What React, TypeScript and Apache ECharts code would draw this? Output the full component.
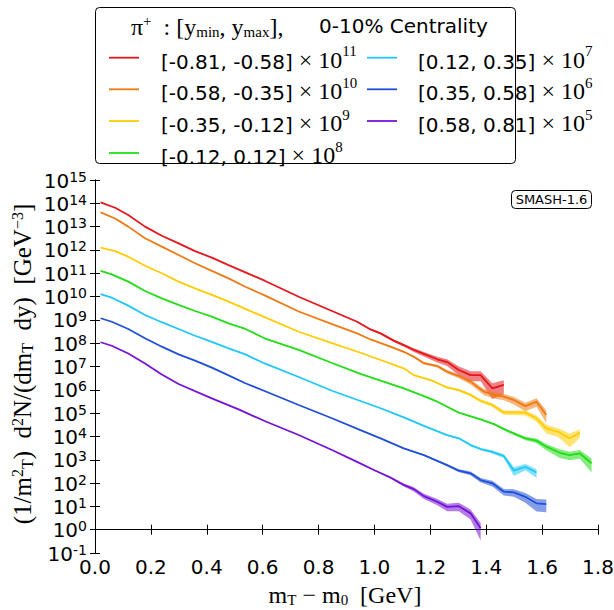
import React, { useEffect, useRef } from 'react';
import * as echarts from 'echarts';

// Rapidity ranges and scale exponents (plotted value = yield × 10^exp)
const rangeLabels = ['[-0.81, -0.58]', '[-0.58, -0.35]', '[-0.35, -0.12]', '[-0.12, 0.12]', '[0.12, 0.35]', '[0.35, 0.58]', '[0.58, 0.81]'];
const scaleExponents = [11, 10, 9, 8, 7, 6, 5];
const seriesColors = ['#e3171c', '#ef7a12', '#ffcc00', '#22dd18', '#1ec8f8', '#1f4fd8', '#7512d6'];

// x positions (mT - m0, GeV), log10 of plotted (scaled) values, relative errors
const redX = [0.02, 0.072, 0.119, 0.179, 0.239, 0.299, 0.358, 0.418, 0.478, 0.538, 0.609, 0.729, 0.848, 0.938, 0.986, 1.022, 1.069, 1.105, 1.141, 1.177, 1.225, 1.26, 1.302, 1.344, 1.38, 1.422, 1.463];
const redLog10 = [14.04, 13.81, 13.5, 13.0, 12.61, 12.28, 11.95, 11.67, 11.35, 11.04, 10.67, 9.99, 9.38, 8.92, 8.59, 8.42, 8.11, 7.92, 7.71, 7.54, 7.31, 7.19, 6.85, 6.63, 6.63, 6.06, 6.21];
const redRelErr = [0.01, 0.01, 0.01, 0.01, 0.01, 0.01, 0.01, 0.01, 0.01, 0.01, 0.01, 0.02, 0.03, 0.06, 0.08, 0.1, 0.12, 0.15, 0.18, 0.22, 0.28, 0.32, 0.4, 0.45, 0.45, 0.65, 0.6];

const orangeX = [0.02, 0.072, 0.119, 0.179, 0.239, 0.299, 0.358, 0.418, 0.478, 0.538, 0.609, 0.729, 0.848, 0.938, 0.986, 1.057, 1.105, 1.141, 1.177, 1.225, 1.26, 1.302, 1.344, 1.392, 1.428, 1.463, 1.499, 1.54, 1.58, 1.615];
const orangeLog10 = [13.61, 13.35, 13.0, 12.5, 12.14, 11.78, 11.43, 11.1, 10.78, 10.42, 10.04, 9.36, 8.82, 8.42, 8.16, 7.85, 7.63, 7.42, 7.14, 7.02, 6.78, 6.59, 6.35, 5.92, 5.78, 5.71, 5.56, 5.3, 5.49, 4.92];
const orangeRelErr = [0.01, 0.01, 0.01, 0.01, 0.01, 0.01, 0.01, 0.01, 0.01, 0.01, 0.01, 0.02, 0.02, 0.03, 0.04, 0.06, 0.08, 0.1, 0.12, 0.14, 0.16, 0.2, 0.25, 0.3, 0.3, 0.3, 0.35, 0.4, 0.4, 0.55];

const yellowX = [0.02, 0.072, 0.119, 0.179, 0.239, 0.299, 0.358, 0.418, 0.478, 0.538, 0.609, 0.729, 0.848, 0.95, 1.022, 1.105, 1.141, 1.201, 1.26, 1.302, 1.344, 1.38, 1.422, 1.463, 1.499, 1.54, 1.58, 1.615, 1.657, 1.699, 1.735];
const yellowLog10 = [12.1, 11.95, 11.71, 11.32, 11.0, 10.64, 10.35, 10.07, 9.78, 9.47, 9.11, 8.49, 8.0, 7.59, 7.28, 6.92, 6.63, 6.42, 6.1, 5.99, 5.78, 5.53, 5.35, 5.03, 5.03, 5.02, 4.78, 4.35, 4.2, 3.92, 4.16];
const yellowRelErr = [0.01, 0.01, 0.01, 0.01, 0.01, 0.01, 0.01, 0.01, 0.01, 0.01, 0.01, 0.01, 0.01, 0.02, 0.03, 0.04, 0.05, 0.07, 0.1, 0.12, 0.14, 0.16, 0.18, 0.22, 0.22, 0.25, 0.3, 0.4, 0.4, 0.6, 0.4];

const greenX = [0.02, 0.06, 0.119, 0.179, 0.239, 0.299, 0.358, 0.418, 0.478, 0.538, 0.609, 0.729, 0.848, 0.95, 1.022, 1.105, 1.177, 1.225, 1.302, 1.38, 1.428, 1.475, 1.54, 1.58, 1.615, 1.663, 1.699, 1.735, 1.777];
const greenLog10 = [11.1, 10.95, 10.64, 10.24, 9.92, 9.64, 9.38, 9.14, 8.85, 8.61, 8.2, 7.71, 7.15, 6.68, 6.39, 6.06, 5.73, 5.49, 5.02, 4.73, 4.53, 4.25, 3.92, 3.82, 3.56, 3.3, 3.2, 3.27, 2.85];
const greenRelErr = [0.01, 0.01, 0.01, 0.01, 0.01, 0.01, 0.01, 0.01, 0.01, 0.01, 0.01, 0.01, 0.01, 0.02, 0.02, 0.03, 0.03, 0.04, 0.05, 0.06, 0.08, 0.12, 0.18, 0.22, 0.3, 0.4, 0.4, 0.4, 0.6];

const cyanX = [0.02, 0.06, 0.119, 0.179, 0.239, 0.299, 0.358, 0.418, 0.478, 0.538, 0.609, 0.729, 0.848, 0.95, 1.022, 1.105, 1.177, 1.26, 1.302, 1.344, 1.38, 1.422, 1.463, 1.499, 1.54, 1.58];
const cyanLog10 = [10.1, 9.95, 9.61, 9.21, 8.9, 8.61, 8.32, 8.06, 7.78, 7.52, 7.12, 6.55, 5.96, 5.52, 5.21, 4.82, 4.45, 4.06, 3.92, 3.63, 3.46, 3.34, 3.16, 2.53, 2.7, 2.45];
const cyanRelErr = [0.01, 0.01, 0.01, 0.01, 0.01, 0.01, 0.01, 0.01, 0.01, 0.01, 0.01, 0.01, 0.01, 0.02, 0.03, 0.04, 0.05, 0.06, 0.08, 0.1, 0.12, 0.15, 0.2, 0.4, 0.3, 0.4];

const blueX = [0.02, 0.06, 0.119, 0.179, 0.239, 0.299, 0.358, 0.418, 0.478, 0.538, 0.609, 0.729, 0.848, 0.95, 1.022, 1.105, 1.177, 1.26, 1.302, 1.344, 1.38, 1.422, 1.463, 1.499, 1.54, 1.58, 1.615];
const blueLog10 = [9.07, 8.92, 8.61, 8.21, 7.85, 7.52, 7.25, 6.95, 6.62, 6.28, 5.94, 5.35, 4.78, 4.27, 3.92, 3.49, 3.2, 2.77, 2.53, 2.42, 2.13, 1.99, 1.63, 1.6, 1.41, 1.13, 1.1];
const blueRelErr = [0.01, 0.01, 0.01, 0.01, 0.01, 0.01, 0.01, 0.01, 0.01, 0.01, 0.01, 0.01, 0.01, 0.02, 0.03, 0.04, 0.06, 0.1, 0.15, 0.18, 0.22, 0.28, 0.32, 0.35, 0.45, 0.55, 0.55];

const purpleX = [0.02, 0.06, 0.119, 0.179, 0.239, 0.299, 0.418, 0.514, 0.609, 0.729, 0.848, 0.938, 0.998, 1.057, 1.105, 1.141, 1.177, 1.225, 1.26, 1.302, 1.344, 1.38];
const purpleLog10 = [8.04, 7.89, 7.56, 7.13, 6.66, 6.25, 5.63, 5.16, 4.65, 4.06, 3.42, 2.91, 2.56, 2.24, 1.92, 1.74, 1.44, 1.2, 0.98, 1.01, 0.7, 0.06];
const purpleRelErr = [0.01, 0.01, 0.01, 0.01, 0.01, 0.01, 0.01, 0.01, 0.01, 0.01, 0.01, 0.03, 0.05, 0.1, 0.15, 0.2, 0.25, 0.3, 0.35, 0.4, 0.45, 0.7];

const xTicks = { min: 0, max: 1.8, interval: 0.2 };
const yDecades = { min: -1, max: 15, interval: 1 };

const SERIF = "'Liberation Serif', 'DejaVu Serif', serif";
const SANS = "'DejaVu Sans', sans-serif";

function rgba(hex: string, a: number) {
  const n = parseInt(hex.slice(1), 16);
  return `rgba(${(n >> 16) & 255},${(n >> 8) & 255},${n & 255},${a})`;
}

const groups = [
  { x: redX, y: redLog10, e: redRelErr },
  { x: orangeX, y: orangeLog10, e: orangeRelErr },
  { x: yellowX, y: yellowLog10, e: yellowRelErr },
  { x: greenX, y: greenLog10, e: greenRelErr },
  { x: cyanX, y: cyanLog10, e: cyanRelErr },
  { x: blueX, y: blueLog10, e: blueRelErr },
  { x: purpleX, y: purpleLog10, e: purpleRelErr },
];

const mathRich = {
  m: { fontFamily: SERIF, fontSize: 24, lineHeight: 26, verticalAlign: 'bottom', fill: '#000' },
  sup: { fontFamily: SERIF, fontSize: 15, lineHeight: 15, verticalAlign: 'top', fill: '#000' },
  sub: { fontFamily: SERIF, fontSize: 15, lineHeight: 18, verticalAlign: 'bottom', fill: '#000' },
};

export default function App() {
  const ref = useRef<HTMLDivElement>(null);
  useEffect(() => {
    const chart = echarts.init(ref.current!, null, { renderer: 'svg' });

    const series: any[] = [];
    groups.forEach((g, k) => {
      const color = seriesColors[k];
      series.push({
        type: 'custom',
        name: rangeLabels[k] + ' band',
        silent: true,
        clip: true,
        z: 1,
        data: [[g.x[0], g.y[0]]],
        renderItem: (_params: any, api: any) => {
          const up = g.x.map((xv, i) => api.coord([xv, g.y[i] + Math.log10(1 + g.e[i])]));
          const lo = g.x
            .map((xv, i) => api.coord([xv, g.y[i] + Math.log10(Math.max(1 - g.e[i], 0.05))]))
            .reverse();
          return { type: 'polygon', shape: { points: up.concat(lo) }, style: { fill: rgba(color, 0.55) } };
        },
      });
      series.push({
        type: 'line',
        name: rangeLabels[k],
        z: 3,
        showSymbol: false,
        symbol: 'none',
        data: g.x.map((xv, i) => [xv, g.y[i]]),
        lineStyle: { color, width: 1.8 },
      });
    });

    const graphic: any[] = [];
    graphic.push({
      type: 'rect',
      shape: { x: 95.5, y: 7.5, width: 420, height: 156, r: 4 },
      style: { fill: '#fff', stroke: '#000', lineWidth: 1 },
      z: 10,
    });
    graphic.push({
      type: 'text',
      x: 131,
      y: 26,
      z: 11,
      style: {
        text: '{m|π}{sup|+}{m|  : [y}{sub|min}{m|, y}{sub|max}{m|],}',
        rich: mathRich,
        verticalAlign: 'middle',
        align: 'left',
      },
    });
    graphic.push({
      type: 'text',
      x: 319,
      y: 26,
      z: 11,
      style: { text: '0-10% Centrality', fontFamily: SANS, fontSize: 20, fill: '#000', verticalAlign: 'middle', align: 'left' },
    });
    const rowY = [57.7, 89.3, 121, 153];
    rangeLabels.forEach((lab, k) => {
      const col = k < 4 ? 0 : 1;
      const row = k < 4 ? k : k - 4;
      const lx = col === 0 ? 109 : 367;
      const tx = col === 0 ? 161 : 418;
      const y = rowY[row];
      graphic.push({
        type: 'line',
        z: 11,
        shape: { x1: lx, y1: y, x2: lx + 30, y2: y },
        style: { stroke: seriesColors[k], lineWidth: 1.8 },
      });
      graphic.push({
        type: 'text',
        x: tx,
        y: y,
        z: 11,
        style: {
          text: `{s|${lab}}{m| × 10}{sup|${scaleExponents[k]}}`,
          rich: {
            s: { fontFamily: SANS, fontSize: 20, lineHeight: 28, verticalAlign: 'bottom', fill: '#000' },
            m: { fontFamily: SERIF, fontSize: 24, lineHeight: 28, verticalAlign: 'bottom', fill: '#000' },
            sup: { fontFamily: SERIF, fontSize: 15, lineHeight: 17, verticalAlign: 'top', fill: '#000' },
          },
          verticalAlign: 'middle',
          align: 'left',
        },
      });
    });
    // SMASH label box
    graphic.push({
      type: 'rect',
      z: 11,
      shape: { x: 511.5, y: 190.5, width: 80, height: 18, r: 4 },
      style: { fill: '#fff', stroke: '#000', lineWidth: 1 },
    });
    graphic.push({
      type: 'text',
      z: 12,
      x: 551.5,
      y: 199.5,
      style: { text: 'SMASH-1.6', fontFamily: SANS, fontSize: 13, fill: '#000', align: 'center', verticalAlign: 'middle' },
    });
    // axis titles
    graphic.push({
      type: 'text',
      x: 345,
      y: 594,
      style: {
        text: '{m|m}{sub|T}{m| − m}{sub|0}{m|  [GeV]}',
        rich: mathRich,
        align: 'center',
        verticalAlign: 'middle',
      },
    });
    graphic.push({
      type: 'text',
      x: 22,
      y: 364,
      rotation: Math.PI / 2,
      style: {
        text: '{m|(1/m}{sup|2}{sub|T}{m|)  d}{sup|2}{m|N/(dm}{sub|T}{m|  dy)  [GeV}{sup|−3}{m|]}',
        rich: {
          m: { fontFamily: SERIF, fontSize: 25, lineHeight: 26, verticalAlign: 'bottom', fill: '#000' },
          sup: { fontFamily: SERIF, fontSize: 16, lineHeight: 15, verticalAlign: 'top', fill: '#000' },
          sub: { fontFamily: SERIF, fontSize: 16, lineHeight: 18, verticalAlign: 'bottom', fill: '#000' },
        },
        align: 'center',
        verticalAlign: 'middle',
      },
    });

    const axisLine = { show: true, lineStyle: { color: '#000', width: 1 } };
    const tick = { show: true, inside: true, length: 5, lineStyle: { color: '#000', width: 1 } };

    chart.setOption({
      animation: false,
      backgroundColor: '#fff',
      grid: { left: 95, right: 16, top: 180, bottom: 57, containLabel: false, outerBoundsMode: 'none' },
      xAxis: [
        {
          type: 'value',
          position: 'bottom',
          ...xTicks,
          axisLine,
          axisTick: tick,
          splitLine: { show: false },
          axisLabel: {
            fontFamily: SANS,
            fontSize: 20,
            color: '#000',
            margin: 4,
            showMaxLabel: true,
            showMinLabel: true,
            hideOverlap: false,
            formatter: (v: number) => v.toFixed(1),
          },
        },
        {
          type: 'value',
          position: 'top',
          ...xTicks,
          axisLine,
          axisTick: tick,
          splitLine: { show: false },
          axisLabel: { show: false },
        },
      ],
      yAxis: [
        {
          type: 'value',
          position: 'left',
          ...yDecades,
          axisLine,
          axisTick: tick,
          splitLine: { show: false },
          axisLabel: {
            margin: 8,
            showMaxLabel: true,
            showMinLabel: true,
            hideOverlap: false,
            formatter: (v: number) => `{b|10}{s|${Math.round(v)}}`,
            rich: {
              b: { fontFamily: SANS, fontSize: 20, lineHeight: 21, verticalAlign: 'bottom', color: '#000' },
              s: { fontFamily: SANS, fontSize: 14, lineHeight: 10, verticalAlign: 'top', color: '#000' },
            },
          },
        },
        {
          type: 'value',
          position: 'right',
          ...yDecades,
          axisLine,
          axisTick: tick,
          splitLine: { show: false },
          axisLabel: { show: false },
        },
      ],
      series,
      graphic,
    });
    return () => chart.dispose();
  }, []);
  return (
    <div
      ref={ref}
      style={{ position: 'fixed', left: 0, top: 0, width: 614, height: 610, background: '#fff' }}
    />
  );
}
